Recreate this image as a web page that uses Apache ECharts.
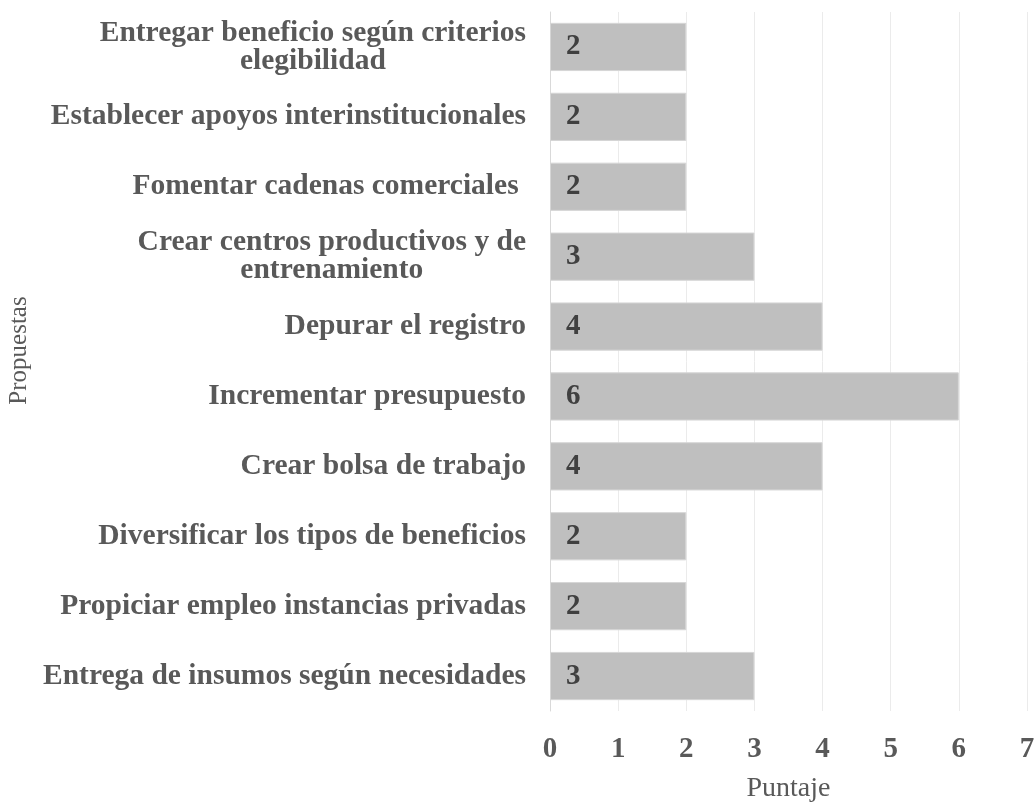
<!DOCTYPE html>
<html>
<head>
<meta charset="utf-8">
<script src="https://cdn.jsdelivr.net/npm/echarts@6/dist/echarts.min.js"></script>
<style>
html, body { margin: 0; padding: 0; background: #fff; }
#main { width: 1036px; height: 803px; }
</style>
</head>
<body>
<div id="main"></div>
<script>
// categories, bottom to top (category axis starts at the bottom)
const propuestas = [
    'Entrega de insumos según necesidades',
    'Propiciar empleo instancias privadas',
    'Diversificar los tipos de beneficios',
    'Crear bolsa de trabajo',
    'Incrementar presupuesto',
    'Depurar el registro',
    'Crear centros productivos y de\nentrenamiento',
    'Fomentar cadenas comerciales ',
    'Establecer apoyos interinstitucionales',
    'Entregar beneficio según criterios\nelegibilidad'
];
const puntaje = [3, 2, 2, 4, 6, 4, 3, 2, 2, 2];
const xTicks = [0, 1, 2, 3, 4, 5, 6, 7];

const serif = '"Liberation Serif", "Times New Roman", serif';

let myChart = echarts.init(document.getElementById('main'));
myChart.setOption({
    animation: false,
    grid: { left: 550, right: 9, top: 12, bottom: 92, containLabel: false, outerBoundsMode: 'none' },
    xAxis: {
        type: 'value',
        min: xTicks[0],
        max: xTicks[xTicks.length - 1],
        interval: 1,
        name: 'Puntaje',
        nameLocation: 'middle',
        nameGap: 64,
        nameTextStyle: { fontFamily: serif, fontSize: 28, color: '#595959' },
        axisLine: { show: false },
        axisTick: { show: false },
        axisLabel: { margin: 24, fontFamily: serif, fontSize: 29, fontWeight: 'bold', color: '#595959' },
        splitLine: { lineStyle: { color: '#ebebeb', width: 1 } }
    },
    yAxis: {
        type: 'category',
        data: propuestas,
        name: 'Propuestas',
        nameLocation: 'middle',
        nameRotate: 90,
        nameGap: 518,
        nameTextStyle: { fontFamily: serif, fontSize: 25, color: '#595959', padding: [0, 0, 0, 22] },
        axisLine: { lineStyle: { color: '#d9d9d9', width: 1 } },
        axisTick: { show: false },
        axisLabel: {
            margin: 24,
            interval: 0,
            formatter: v => v.split('\n').map(s => '{c|' + s + '}').join('\n'),
            rich: {
                c: {
                    align: 'center',
                    fontFamily: serif, fontSize: 29.5, fontWeight: 'bold', color: '#595959', lineHeight: 28
                }
            }
        }
    },
    series: [{
        type: 'bar',
        data: puntaje,
        barCategoryGap: '31%',
        itemStyle: { color: '#bfbfbf', borderColor: '#d6d6d6', borderWidth: 1 },
        label: {
            show: true,
            position: 'insideLeft',
            distance: 16,
            fontFamily: serif, fontSize: 29, fontWeight: 'bold', color: '#404040'
        }
    }]
});
</script>
</body>
</html>
